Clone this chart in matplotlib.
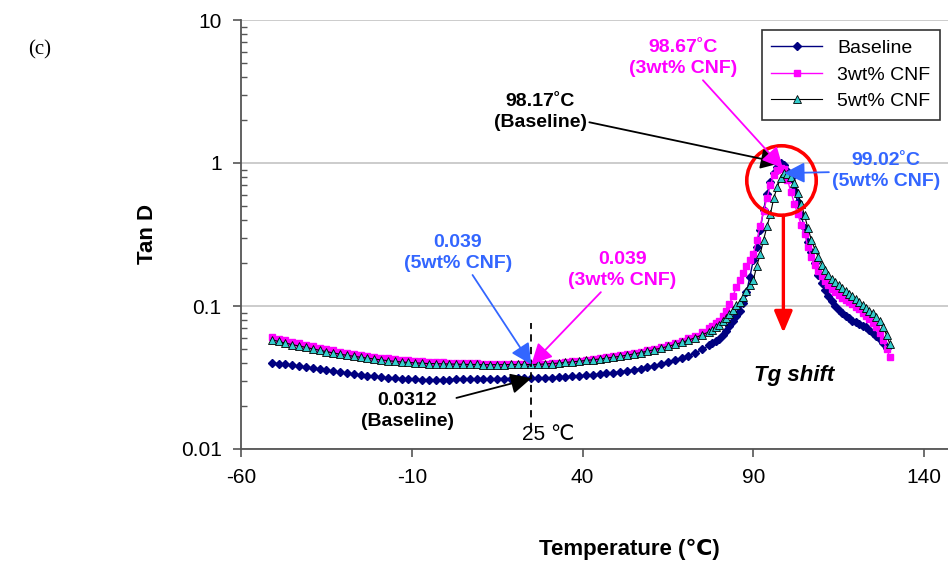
import numpy as np
import matplotlib
matplotlib.use("Agg")
import matplotlib.pyplot as plt

plt.rcParams['font.family'] = ['Liberation Sans', 'DejaVu Sans']
plt.rcParams['axes.unicode_minus'] = False

# sample temperatures (C)
temps = [-51, -49, -47, -45, -43, -41, -39, -37, -35, -33, -31, -29, -27, -25, -23, -21,
         -19, -17, -15, -13, -11, -9, -7, -5, -3, -1, 1, 3, 5, 7, 9, 11, 13, 15, 17, 19,
         21, 23, 25, 27, 29, 31, 33, 35, 37, 39, 41, 43, 45, 47, 49, 51, 53, 55, 57, 59,
         61, 63, 65, 67, 69, 71, 73, 75, 77,
         78, 79, 80, 81, 82, 83, 84, 85, 86, 87, 88, 89, 90, 91, 92, 93, 94, 95, 96, 97,
         98, 99, 100, 101, 102, 103, 104, 105, 106, 107, 108, 109, 110, 111, 112, 113,
         114, 115, 116, 117, 118, 119, 120, 121, 122, 123, 124, 125, 126, 127, 128, 129, 130]

tan_base = [0.040, 0.0395, 0.039, 0.0385, 0.038, 0.0373, 0.0367, 0.036, 0.0355, 0.035,
            0.0345, 0.034, 0.0335, 0.033, 0.0326, 0.0322, 0.0318, 0.0315, 0.0312, 0.031,
            0.0308, 0.0307, 0.0306, 0.0306, 0.0305, 0.0306, 0.0306, 0.0307, 0.0307, 0.0308,
            0.0309, 0.031, 0.031, 0.0311, 0.0311, 0.0311, 0.0312, 0.0312, 0.0312, 0.0313,
            0.0315, 0.0316, 0.0318, 0.032, 0.0322, 0.0325, 0.0328, 0.0331, 0.0334, 0.0338,
            0.0342, 0.0347, 0.0352, 0.0358, 0.0365, 0.0373, 0.0382, 0.0392, 0.0403, 0.0416,
            0.043, 0.0447, 0.047, 0.0497, 0.053,
            0.0548, 0.0567, 0.059, 0.0625, 0.067, 0.072, 0.078, 0.085, 0.093, 0.105,
            0.125, 0.16, 0.21, 0.26, 0.34, 0.47, 0.61, 0.74, 0.85, 0.94,
            1.0, 0.97, 0.88, 0.79, 0.65, 0.53, 0.43, 0.35, 0.28, 0.24,
            0.20, 0.165, 0.145, 0.13, 0.117, 0.108, 0.100, 0.094, 0.089, 0.085,
            0.082, 0.079, 0.077, 0.075, 0.073, 0.071, 0.068, 0.065, 0.062, 0.059,
            0.055, 0.051, np.nan]

tan_3wt = [0.061, 0.059, 0.0575, 0.056, 0.0548, 0.0535, 0.0525, 0.0512, 0.050, 0.049,
           0.048, 0.047, 0.0462, 0.0455, 0.0448, 0.0441, 0.0435, 0.043, 0.0425, 0.042,
           0.0416, 0.0412, 0.041, 0.0407, 0.0405, 0.0403, 0.0401, 0.040, 0.0399, 0.0398,
           0.0397, 0.0396, 0.0395, 0.0394, 0.0393, 0.0392, 0.0391, 0.039, 0.039, 0.0392,
           0.0395, 0.0398, 0.0401, 0.0405, 0.041, 0.0415, 0.042, 0.0425, 0.0431, 0.0437,
           0.0444, 0.0452, 0.046, 0.047, 0.048, 0.049, 0.0503, 0.0517, 0.0533, 0.055,
           0.057, 0.0594, 0.062, 0.0655, 0.070,
           0.0725, 0.0755, 0.079, 0.085, 0.093, 0.103, 0.117, 0.135, 0.152, 0.17,
           0.19, 0.21, 0.23, 0.29, 0.36, 0.46, 0.57, 0.70, 0.82, 0.90,
           0.92, 0.91, 0.76, 0.63, 0.52, 0.44, 0.37, 0.32, 0.26, 0.22,
           0.195, 0.175, 0.162, 0.15, 0.14, 0.132, 0.125, 0.119, 0.114, 0.110,
           0.107, 0.104, 0.099, 0.095, 0.09, 0.085, 0.081, 0.076, 0.071, 0.065,
           0.058, 0.050, 0.044]

tan_5wt = [0.058, 0.0565, 0.055, 0.0537, 0.0525, 0.0513, 0.0502, 0.049, 0.048, 0.047,
           0.046, 0.0452, 0.0445, 0.0438, 0.0432, 0.0426, 0.042, 0.0415, 0.041, 0.0406,
           0.0403, 0.040, 0.0398, 0.0396, 0.0395, 0.0394, 0.0393, 0.0392, 0.0391, 0.039,
           0.039, 0.0389, 0.0389, 0.0389, 0.0389, 0.039, 0.039, 0.039, 0.039, 0.0391,
           0.0393, 0.0396, 0.0399, 0.0403, 0.0407, 0.0411, 0.0416, 0.0421, 0.0426, 0.0432,
           0.0438, 0.0445, 0.0453, 0.0462, 0.0472, 0.0483, 0.0495, 0.0508, 0.0522, 0.0538,
           0.0556, 0.0577, 0.060, 0.0628, 0.066,
           0.068, 0.071, 0.074, 0.078, 0.083, 0.088, 0.094, 0.101, 0.107, 0.116,
           0.127, 0.14, 0.152, 0.19, 0.23, 0.29, 0.36, 0.44, 0.57, 0.68,
           0.78, 0.85, 0.84, 0.80, 0.73, 0.62, 0.52, 0.43, 0.35, 0.29,
           0.25, 0.22, 0.195, 0.178, 0.164, 0.155, 0.147, 0.14, 0.134, 0.128,
           0.122, 0.117, 0.112, 0.107, 0.102, 0.097, 0.093, 0.089, 0.084, 0.078,
           0.071, 0.063, 0.054]

peak_temps = [98.17, 98.67, 99.02]
rt_temp = 25
rt_vals = [0.0312, 0.039, 0.039]

navy = '#000080'
magenta = '#FF00FF'
blue = '#3366FF'
teal = '#33CCCC'
narrow = ['Liberation Sans Narrow', 'Liberation Sans', 'DejaVu Sans']

fig = plt.figure(figsize=(9.48, 5.62), dpi=100)
ax = fig.add_axes([241 / 948, 113 / 562, 707 / 948, 429 / 562])

ax.plot(temps, tan_base, color=navy, lw=1, marker='D', ms=3.6, mfc=navy, mec=navy,
        label='Baseline', zorder=3)
ax.plot(temps, tan_3wt, color=magenta, lw=1, marker='s', ms=4.5, mfc=magenta, mec=magenta,
        label='3wt% CNF', zorder=4)
ax.plot(temps, tan_5wt, color='black', lw=0.8, marker='^', ms=5.2, mfc=teal, mec='black',
        mew=0.6, label='5wt% CNF', zorder=5)

ax.set_yscale('log')
ax.set_ylim(0.01, 10)
ax.set_xlim(-60, 147)
ax.set_xticks([-60, -10, 40, 90, 140])
ax.set_yticks([0.01, 0.1, 1, 10])
ax.set_yticklabels(['0.01', '0.1', '1', '10'])
ax.yaxis.grid(True, which='major', color='#C8C8C8', lw=1.3)
ax.set_axisbelow(True)
for s in ['top', 'right']:
    ax.spines[s].set_visible(False)
for s in ['left', 'bottom']:
    ax.spines[s].set_color('#555555')
    ax.spines[s].set_linewidth(1.3)
ax.tick_params(axis='both', which='major', direction='out', length=6, width=1.2,
               color='#555555', labelsize=15, pad=8)
ax.yaxis.set_tick_params(which='minor', direction='in', length=4, width=1, color='#555555')
ax.tick_params(axis='x', which='minor', length=0)

ax.set_ylabel('Tan D', fontsize=16, fontweight='bold')
ax.yaxis.set_label_coords(-0.117, 0.5)
ax.set_xlabel('Temperature (\u2103)', fontsize=16, fontweight='bold', family=narrow,
              va='center')
ax.xaxis.set_label_coords(0.55, -0.235)

leg = ax.legend(loc='upper right', bbox_to_anchor=(0.989, 0.977), borderaxespad=0,
                fontsize=14, frameon=True, fancybox=False, edgecolor='black',
                handlelength=2.6, borderpad=0.5, labelspacing=0.45)
leg.get_frame().set_linewidth(1.2)

# room-temperature marker
ax.vlines(rt_temp, 0.0136, 0.076, colors='black', linestyles=(0, (4, 3)), lw=1.3, zorder=6)
ax.text(0.434, 0.033, '25 \u2103', transform=ax.transAxes, fontsize=15, ha='center',
        va='center', family=narrow)

bold = dict(fontsize=14, fontweight='bold', ha='center', va='center', linespacing=1.35,
            family=['Liberation Sans', 'DejaVu Sans'])

def arrow(c):
    return dict(arrowstyle='-|>,head_length=0.9,head_width=0.45', color=c, lw=1.3,
                shrinkA=0, shrinkB=0)

peak_vals = [np.nanmax(tan_base), np.nanmax(tan_3wt), np.nanmax(tan_5wt)]

ax.annotate('98.17\u02daC\n(Baseline)', xy=(peak_temps[0], peak_vals[0]),
            xytext=(0.423, 0.786), textcoords='axes fraction', color='black',
            arrowprops=arrow('black'), zorder=8, **bold)
ax.annotate('98.67\u02daC\n(3wt% CNF)', xy=(peak_temps[1], peak_vals[1]),
            xytext=(0.625, 0.911), textcoords='axes fraction', color=magenta,
            arrowprops=arrow(magenta), zorder=8, **bold)
ax.annotate('99.02\u02daC\n(5wt% CNF)', xy=(peak_temps[2], peak_vals[2]),
            xytext=(0.912, 0.648), textcoords='axes fraction', color=blue,
            arrowprops=arrow(blue), zorder=8, **bold)

ax.annotate('0.039\n(5wt% CNF)', xy=(rt_temp, rt_vals[2]),
            xytext=(0.307, 0.457), textcoords='axes fraction', color=blue,
            arrowprops=arrow(blue), zorder=8, **bold)
ax.annotate('0.039\n(3wt% CNF)', xy=(rt_temp, rt_vals[1]),
            xytext=(0.539, 0.417), textcoords='axes fraction', color=magenta,
            arrowprops=arrow(magenta), zorder=8, **bold)
ax.annotate('0.0312\n(Baseline)', xy=(rt_temp, rt_vals[0]),
            xytext=(0.235, 0.089), textcoords='axes fraction', color='black',
            arrowprops=arrow('black'), zorder=8, **bold)

# glass transition highlight
ax.plot(98, 0.76, 'o', ms=50, mfc='none', mec='red', mew=2.6, zorder=7)
ax.annotate('', xy=(98.8, 0.065), xytext=(98.8, 0.43),
            arrowprops=dict(arrowstyle='-|>,head_length=1.3,head_width=0.55',
                            color='red', lw=2.4, shrinkA=0, shrinkB=0), zorder=7)
ax.text(0.783, 0.172, 'Tg shift', transform=ax.transAxes, fontsize=16,
        fontweight='bold', fontstyle='italic', ha='center', va='center')

fig.text(28 / 948, 1 - 50 / 562, '(c)', fontsize=15, ha='left', va='center',
         family=['Liberation Serif', 'DejaVu Serif'])

fig.savefig('out.png', dpi=100)
